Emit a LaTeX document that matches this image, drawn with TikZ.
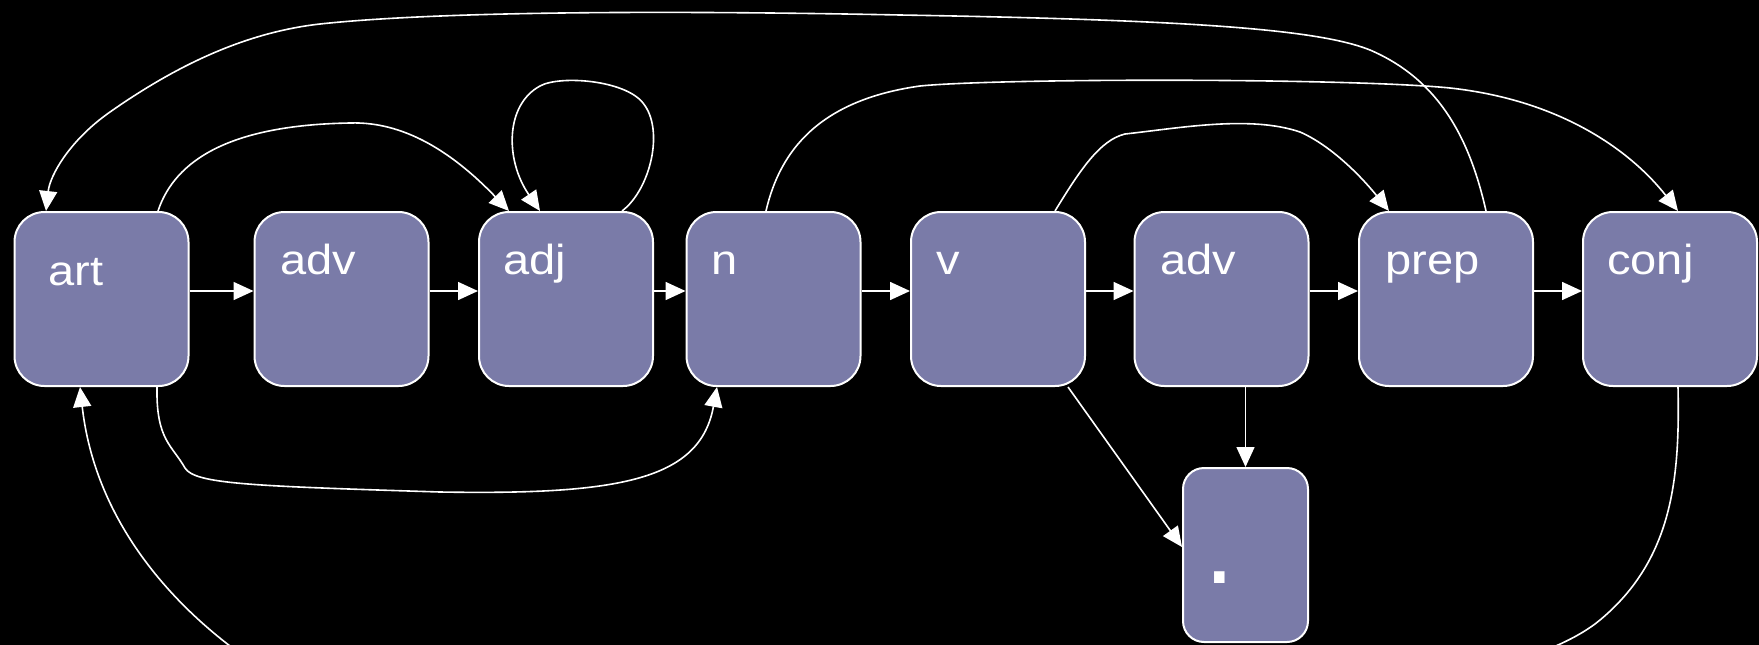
\documentclass[tikz,border=0pt]{standalone}
\usepackage{fontspec}
\setmainfont{Liberation Sans}[FakeStretch=1.12]
\newfontfamily\dotfont{Liberation Sans}
\usetikzlibrary{arrows.meta,calc}
\definecolor{boxfill}{RGB}{122,123,168}
\begin{document}
\begin{tikzpicture}[x=1pt,y=-1pt,
  box/.style={draw=white, line width=2pt, fill=boxfill, rounded corners=30pt,
    minimum width=174pt, minimum height=174pt, inner sep=0pt},
  smallbox/.style={box, rounded corners=21pt, minimum width=125pt},
  lbl/.style={text=white, font=\fontsize{42}{50}\selectfont, anchor=base west, inner sep=0pt},
  link/.style={draw=white, line width=1.6pt, -{Triangle[length=20pt,width=18pt]}}]
\fill[black] (0,0) rectangle (1759,645);
\useasboundingbox (0,0) rectangle (1759,645);
% boxes
\node[box] (art)  at (101.5,299) {};
\node[box] (adv1) at (341.5,299) {};
\node[box] (adj)  at (566,299) {};
\node[box] (n)    at (773.5,299) {};
\node[box] (v)    at (998,299) {};
\node[box] (adv2) at (1221.5,299) {};
\node[box] (prep) at (1446,299) {};
\node[box] (conj) at (1670,299) {};
\node[smallbox] (dot) at (1245.5,555) {};
% labels
\node[lbl] (artT)  at (48,285) {art};
\node[lbl] (adv1T) at (280,274) {adv};
\node[lbl] (adjT)  at (503,274) {adj};
\node[lbl] (nT)    at (711,274) {n};
\node[lbl] (vT)    at (936,274) {v};
\node[lbl] (adv2T) at (1160,274) {adv};
\node[lbl] (prepT) at (1385,274) {prep};
\node[lbl] (conjT) at (1607,274) {conj};
\node[lbl, font=\dotfont\fontsize{110}{114}\selectfont] (dotT) at (1204,583) {.};
% straight arrows
\draw[link] ($(art.east)+(0,-8)$) -- ($(adv1.west)+(0,-8)$);
\draw[link] ($(adv1.east)+(0,-8)$) -- ($(adj.west)+(0,-8)$);
\draw[link] ($(adj.east)+(0,-8)$) -- ($(n.west)+(0,-8)$);
\draw[link] ($(n.east)+(0,-8)$) -- ($(v.west)+(0,-8)$);
\draw[link] ($(v.east)+(0,-8)$) -- ($(adv2.west)+(0,-8)$);
\draw[link] ($(adv2.east)+(0,-8)$) -- ($(prep.west)+(0,-8)$);
\draw[link] ($(prep.east)+(0,-8)$) -- ($(conj.west)+(0,-8)$);
\draw[link] ($(adv2.south)+(24,0)$) -- (dot.north);
\draw[link] ($(v.south)+(70,0)$) -- ($(dot.west)+(0,-8)$);
% curved arrows
\draw[link] ($(art.north)+(56.5,0)$) .. controls (175,160) and (230,125) .. (350,123)
  .. controls (410,121) and (460,160) .. ($(adj.north)+(-57,0)$);
\draw[link] ($(adj.north)+(56,0)$) .. controls (650,190) and (665,130) .. (643,103)
  .. controls (625,80) and (560,75) .. (540,86)
  .. controls (505,105) and (505,160) .. ($(adj.north)+(-26,0)$);
\draw[link] ($(art.south)+(55.5,0)$) .. controls (156,440) and (172,445) .. (185,468)
  .. controls (195,484) and (250,486) .. (440,492)
  .. controls (620,495) and (700,480) .. ($(n.south)+(-56.5,0)$);
\draw[link] ($(n.north)+(-7.5,0)$) .. controls (780,150) and (820,100) .. (920,86)
  .. controls (1000,78) and (1350,78) .. (1450,88)
  .. controls (1560,100) and (1630,150) .. ($(conj.north)+(8,0)$);
\draw[link] ($(v.north)+(57,0)$) .. controls (1080,170) and (1100,140) .. (1125,134)
  .. controls (1180,128) and (1250,115) .. (1300,132)
  .. controls (1330,145) and (1360,175) .. ($(prep.north)+(-57,0)$);
\draw[link] ($(prep.north)+(40,0)$) .. controls (1470,140) and (1440,80) .. (1370,50)
  .. controls (1320,30) and (1200,20) .. (900,15)
  .. controls (700,11) and (450,10) .. (320,24)
  .. controls (240,33) and (170,70) .. (110,112)
  .. controls (70,140) and (50,175) .. ($(art.north)+(-55.5,0)$);
\begin{scope}
\clip (0,0) rectangle (1759,645);
\draw[link] ($(conj.south)+(8,0)$) .. controls (1680,480) and (1672,560) .. (1600,620)
  .. controls (1420,770) and (330,723) .. (230,646)
  .. controls (170,600) and (95,520) .. ($(art.south)+(-21.5,0)$);
\end{scope}
\end{tikzpicture}
\end{document}
